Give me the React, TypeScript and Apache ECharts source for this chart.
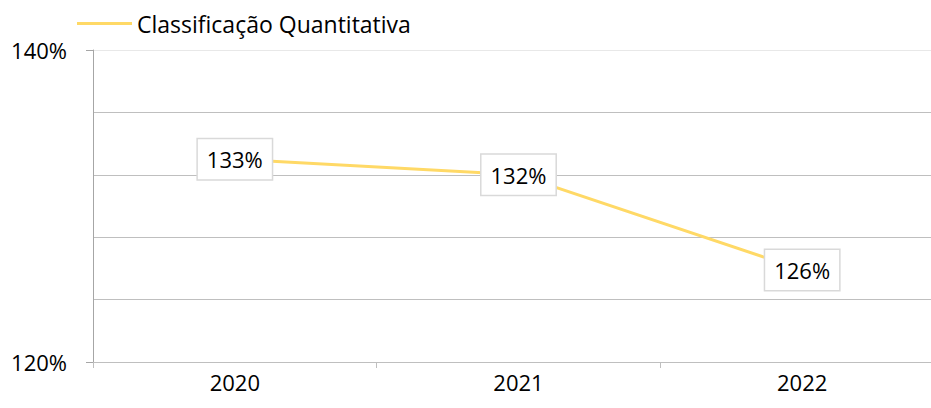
import React, { useEffect, useRef } from "react";
import * as echarts from "echarts";

const categories = ["2020", "2021", "2022"];
const values = [133.0, 132.0, 125.9];
const seriesName = "Classificação Quantitativa";
const yMin = 120;
const yMax = 140;

const FONT = "'Open Sans', sans-serif";

export default function App() {
  const ref = useRef<HTMLDivElement>(null);
  useEffect(() => {
    if (!ref.current) return;
    const chart = echarts.init(ref.current, undefined, { renderer: "svg" });
    chart.setOption({
      animation: false,
      backgroundColor: "#ffffff",
      textStyle: { fontFamily: FONT },
      legend: {
        left: 72,
        top: 7,
        icon: "rect",
        itemWidth: 55,
        itemHeight: 3,
        textStyle: { fontFamily: FONT, fontSize: 23, color: "#000" },
        data: [seriesName],
      },
      grid: { left: 93, top: 50, right: 1, bottom: 46 },
      xAxis: {
        type: "category",
        data: categories,
        boundaryGap: true,
        axisLine: { show: true, lineStyle: { color: "#bfbfbf", width: 1 } },
        axisTick: { show: true, length: 6, lineStyle: { color: "#bfbfbf" } },
        axisLabel: { margin: 9, fontFamily: FONT, fontSize: 22, color: "#000" },
        splitLine: { show: false },
      },
      yAxis: {
        type: "value",
        min: yMin,
        max: yMax,
        interval: 20,
        axisLine: { show: true, lineStyle: { color: "#a6a6a6", width: 1 } },
        axisTick: { show: true, length: 7, lineStyle: { color: "#a6a6a6" } },
        axisLabel: {
          margin: 26,
          fontFamily: FONT,
          fontSize: 22,
          color: "#000",
          formatter: (v: number) => v + "%",
        },
        splitLine: { show: true, lineStyle: { color: "#e8e8e8", width: 1 } },
        minorTick: { show: false, splitNumber: 5 },
        minorSplitLine: { show: true, lineStyle: { color: "#bfbfbf", width: 1 } },
      },
      series: [
        {
          name: seriesName,
          type: "line",
          data: values,
          symbol: "circle",
          symbolSize: 0,
          showSymbol: true,
          lineStyle: { color: "#FFD966", width: 3 },
          itemStyle: { color: "#FFD966" },
          label: {
            show: true,
            position: "inside",
            formatter: (p: any) => Math.round(p.value) + "%",
            fontFamily: FONT,
            fontSize: 22,
            color: "#000",
            backgroundColor: "#ffffff",
            borderColor: "#d9d9d9",
            borderWidth: 1.5,
            padding: [9, 9, 9, 9],
          },
        },
      ],
    });
    return () => chart.dispose();
  }, []);
  return (
    <div
      style={{ position: "absolute", left: 0, top: 0, width: 931, height: 408, overflow: "hidden" }}
    >
      <div ref={ref} style={{ width: 945, height: 408 }} />
    </div>
  );
}
